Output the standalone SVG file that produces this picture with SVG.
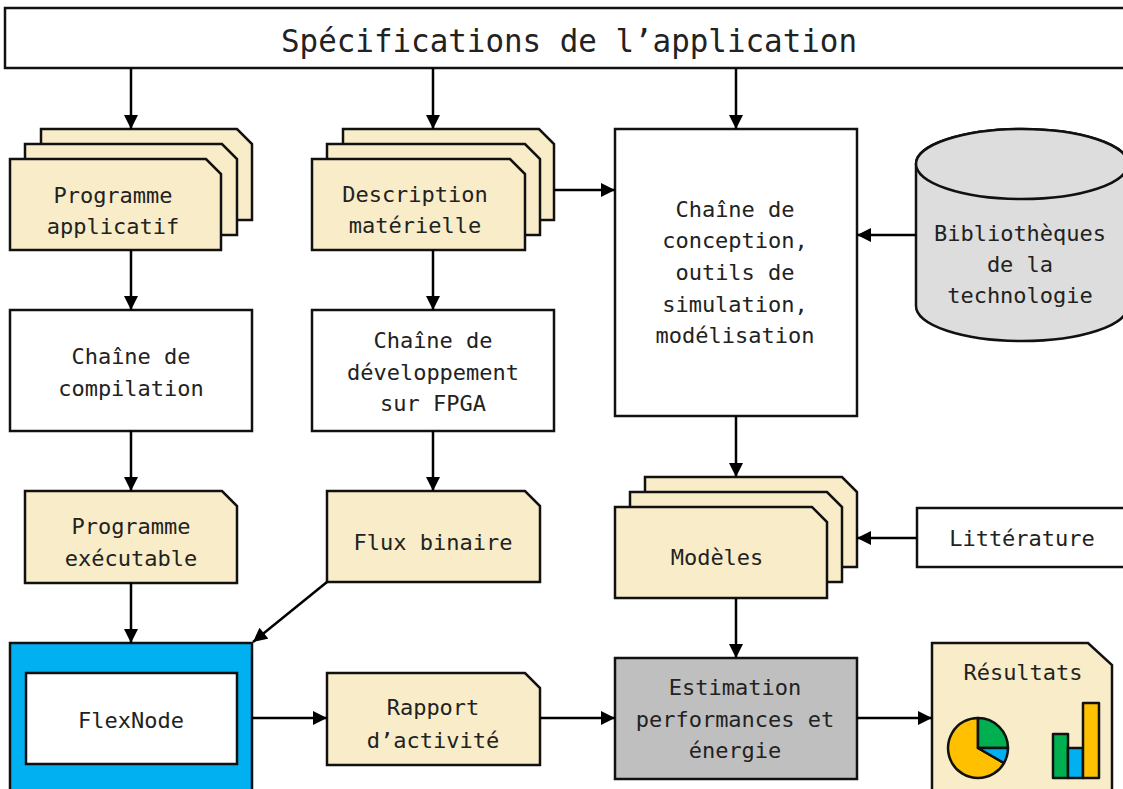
<svg xmlns="http://www.w3.org/2000/svg" width="1123" height="789" viewBox="0 0 1123 789">
  <defs>
    <marker id="arrow" viewBox="0 0 10 10" refX="10" refY="5" markerWidth="15" markerHeight="14" markerUnits="userSpaceOnUse" orient="auto">
      <path d="M0,0 L10,5 L0,10 Z" fill="#000"/>
    </marker>
    <style>
      .box { fill: #fff; stroke: #111; stroke-width: 2.5; }
      .doc { fill: #F8EDC8; stroke: #111; stroke-width: 2.5; stroke-linejoin: miter; }
      .gray { fill: #BFBFBF; stroke: #111; stroke-width: 2.5; }
      .db { fill: #DDDDDD; stroke: #111; stroke-width: 2.5; }
      .conn { fill: none; stroke: #000; stroke-width: 2.5; marker-end: url(#arrow); }
      .lbl { font-family: "DejaVu Sans Mono", "Liberation Mono", monospace; font-size: 22px; fill: #222; text-anchor: middle; }
      .title { font-family: "DejaVu Sans Mono", "Liberation Mono", monospace; font-size: 32px; fill: #222; text-anchor: middle; }
      .chart { stroke: #111; stroke-width: 2.5; stroke-linejoin: round; }
    </style>
  </defs>

  <rect width="1123" height="789" fill="#fff"/>

  <!-- Specification banner -->
  <g id="specifications">
    <rect class="box" x="5" y="8" width="1125" height="60"/>
    <text class="title" x="569" y="52" textLength="576" lengthAdjust="spacingAndGlyphs">Spécifications de l’application</text>
  </g>

  <!-- Application program (stacked documents) -->
  <g id="programme-applicatif">
    <path class="doc" d="M41,129 H237 L252,144 V220 H41 Z"/>
    <path class="doc" d="M25,144 H222 L237,159 V235 H25 Z"/>
    <path class="doc" d="M10,159 H206 L221,174 V250 H10 Z"/>
    <text class="lbl" x="113" y="203">Programme</text>
    <text class="lbl" x="113" y="234">applicatif</text>
  </g>

  <!-- Hardware description (stacked documents) -->
  <g id="description-materielle">
    <path class="doc" d="M343,129 H539 L554,144 V220 H343 Z"/>
    <path class="doc" d="M327,144 H525 L540,159 V235 H327 Z"/>
    <path class="doc" d="M312,159 H510 L525,174 V250 H312 Z"/>
    <text class="lbl" x="415" y="202">Description</text>
    <text class="lbl" x="415" y="233">matérielle</text>
  </g>

  <!-- Design chain -->
  <g id="chaine-conception">
    <rect class="box" x="615" y="129" width="242" height="287"/>
    <text class="lbl" x="735" y="217">Chaîne de</text>
    <text class="lbl" x="735" y="248">conception,</text>
    <text class="lbl" x="735" y="280">outils de</text>
    <text class="lbl" x="735" y="312">simulation,</text>
    <text class="lbl" x="735" y="343">modélisation</text>
  </g>

  <!-- Technology libraries (database) -->
  <g id="bibliotheques">
    <path class="db" d="M916,164 V306 A106,35 0 0 0 1128,306 V164 A106,35 0 0 0 916,164 Z"/>
    <ellipse class="db" cx="1022" cy="164" rx="106" ry="35"/>
    <text class="lbl" x="1020" y="241">Bibliothèques</text>
    <text class="lbl" x="1020" y="272">de la</text>
    <text class="lbl" x="1020" y="303">technologie</text>
  </g>

  <!-- Compilation chain -->
  <g id="chaine-compilation">
    <rect class="box" x="10" y="310" width="242" height="121"/>
    <text class="lbl" x="131" y="364">Chaîne de</text>
    <text class="lbl" x="131" y="396">compilation</text>
  </g>

  <!-- FPGA development chain -->
  <g id="chaine-fpga">
    <rect class="box" x="312" y="310" width="242" height="121"/>
    <text class="lbl" x="433" y="348">Chaîne de</text>
    <text class="lbl" x="433" y="380">développement</text>
    <text class="lbl" x="433" y="411">sur FPGA</text>
  </g>

  <!-- Executable program -->
  <g id="programme-executable">
    <path class="doc" d="M25,491 H222 L237,506 V583 H25 Z"/>
    <text class="lbl" x="131" y="534">Programme</text>
    <text class="lbl" x="131" y="566">exécutable</text>
  </g>

  <!-- Bitstream -->
  <g id="flux-binaire">
    <path class="doc" d="M327,491 H525 L540,506 V582 H327 Z"/>
    <text class="lbl" x="433" y="550">Flux binaire</text>
  </g>

  <!-- Models (stacked documents) -->
  <g id="modeles">
    <path class="doc" d="M645,477 H842 L857,492 V567 H645 Z"/>
    <path class="doc" d="M630,492 H827 L842,507 V582 H630 Z"/>
    <path class="doc" d="M615,507 H812 L827,522 V598 H615 Z"/>
    <text class="lbl" x="717" y="565">Modèles</text>
  </g>

  <!-- Literature -->
  <g id="litterature">
    <rect class="box" x="917" y="508" width="212" height="59"/>
    <text class="lbl" x="1022" y="546">Littérature</text>
  </g>

  <!-- FlexNode platform -->
  <g id="flexnode">
    <rect x="10" y="643" width="242" height="160" fill="#00B0F0" stroke="#111" stroke-width="2.5"/>
    <rect class="box" x="26" y="673" width="211" height="91"/>
    <text class="lbl" x="131" y="728">FlexNode</text>
  </g>

  <!-- Activity report -->
  <g id="rapport-activite">
    <path class="doc" d="M327,673 H525 L540,688 V765 H327 Z"/>
    <text class="lbl" x="433" y="715">Rapport</text>
    <text class="lbl" x="433" y="748">d’activité</text>
  </g>

  <!-- Performance and energy estimation -->
  <g id="estimation">
    <rect class="gray" x="615" y="658" width="242" height="121"/>
    <text class="lbl" x="735" y="695">Estimation</text>
    <text class="lbl" x="735" y="727">performances et</text>
    <text class="lbl" x="735" y="758">énergie</text>
  </g>

  <!-- Results with charts -->
  <g id="resultats">
    <path class="doc" d="M932,643 H1088 L1112,665 V800 H932 Z"/>
    <text class="lbl" x="1023" y="680">Résultats</text>
    <!-- pie chart -->
    <path class="chart" fill="#FFC000" d="M978,748 L1004,763 A30,30 0 1 1 978,718 Z"/>
    <path class="chart" fill="#00B050" d="M978,748 L978,718 A30,30 0 0 1 1008,748 Z"/>
    <path class="chart" fill="#00B0F0" d="M978,748 L1008,748 A30,30 0 0 1 1004,763 Z"/>
    <!-- bar chart -->
    <rect class="chart" fill="#00B050" x="1053" y="734" width="15" height="44"/>
    <rect class="chart" fill="#00B0F0" x="1068" y="748" width="15" height="30"/>
    <rect class="chart" fill="#FFC000" x="1083" y="703" width="16" height="75"/>
  </g>

  <!-- Connectors -->
  <g id="connectors">
    <line class="conn" x1="131" y1="68" x2="131" y2="129"/>
    <line class="conn" x1="433" y1="68" x2="433" y2="129"/>
    <line class="conn" x1="736" y1="68" x2="736" y2="129"/>
    <line class="conn" x1="554" y1="190" x2="615" y2="190"/>
    <line class="conn" x1="916" y1="235" x2="857" y2="235"/>
    <line class="conn" x1="131" y1="250" x2="131" y2="310"/>
    <line class="conn" x1="433" y1="250" x2="433" y2="310"/>
    <line class="conn" x1="131" y1="431" x2="131" y2="491"/>
    <line class="conn" x1="433" y1="431" x2="433" y2="491"/>
    <line class="conn" x1="736" y1="416" x2="736" y2="477"/>
    <line class="conn" x1="917" y1="538" x2="857" y2="538"/>
    <line class="conn" x1="131" y1="583" x2="131" y2="643"/>
    <line class="conn" x1="327" y1="582" x2="253" y2="642"/>
    <line class="conn" x1="736" y1="598" x2="736" y2="658"/>
    <line class="conn" x1="252" y1="718" x2="327" y2="718"/>
    <line class="conn" x1="540" y1="718" x2="615" y2="718"/>
    <line class="conn" x1="857" y1="718" x2="932" y2="718"/>
  </g>
</svg>
